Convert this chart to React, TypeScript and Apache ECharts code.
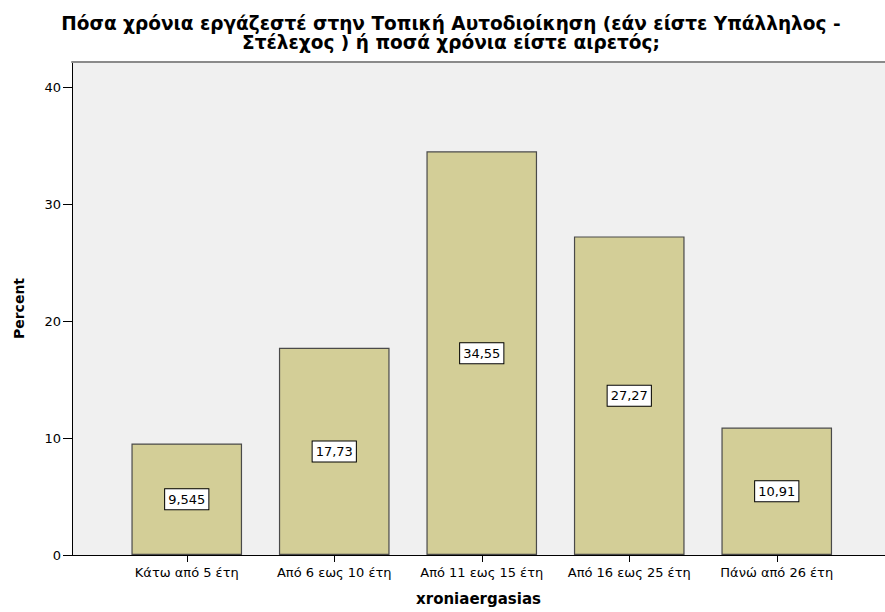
import React, { useEffect, useRef } from "react";
import * as echarts from "echarts";

const categories = [
  "Κάτω από 5 έτη",
  "Από 6 εως 10 έτη",
  "Από 11 εως 15 έτη",
  "Από 16 εως 25 έτη",
  "Πάνώ από 26 έτη",
];
const percents = [9.545, 17.73, 34.55, 27.27, 10.91];
const valueLabels = ["9,545", "17,73", "34,55", "27,27", "10,91"];
const titleText =
  "Πόσα χρόνια εργάζεστέ στην Τοπική Αυτοδιοίκηση (εάν είστε Υπάλληλος -\nΣτέλεχος ) ή ποσά χρόνια είστε αιρετός;";
const yName = "Percent";
const xName = "xroniaergasias";

const FONT = "'DejaVu Sans', Verdana, sans-serif";

export default function App() {
  const ref = useRef<HTMLDivElement>(null);
  useEffect(() => {
    if (!ref.current) return;
    const chart = echarts.init(ref.current, null, { renderer: "svg" });
    const yMax = 42.2;
    chart.setOption({
      animation: false,
      backgroundColor: "#ffffff",
      textStyle: { fontFamily: FONT },
      title: {
        text: titleText,
        left: 446,
        textAlign: "center",
        top: 9,
        padding: 5,
        textStyle: {
          fontFamily: FONT,
          fontSize: 18.5,
          fontWeight: "bold",
          lineHeight: 19,
          color: "#000",
        },
      },
      grid: [
        {
          left: 72,
          right: 0,
          top: 62,
          bottom: 57,
          show: true,
          backgroundColor: "#f0f0f0",
          borderWidth: 0,
        },
        { left: 113, right: 34.5, top: 62, bottom: 57 },
      ],
      xAxis: [
        {
          gridIndex: 0,
          type: "value",
          min: 0,
          max: 1,
          axisLine: { show: true, lineStyle: { color: "#000", width: 1 } },
          axisTick: { show: false },
          axisLabel: { show: false },
          splitLine: { show: false },
          name: xName,
          nameLocation: "middle",
          nameGap: 36,
          nameTextStyle: { fontFamily: FONT, fontSize: 15, fontWeight: "bold", color: "#000" },
        },
        {
          gridIndex: 0,
          type: "value",
          position: "top",
          min: 0,
          max: 1,
          axisLine: { show: true, lineStyle: { color: "#8a8a8a", width: 2 } },
          axisTick: { show: false },
          axisLabel: { show: false },
          splitLine: { show: false },
        },
        {
          gridIndex: 1,
          type: "category",
          data: categories,
          axisLine: { show: false },
          axisTick: { show: true, alignWithLabel: true, length: 7, lineStyle: { color: "#000" } },
          axisLabel: { interval: 0, fontSize: 13, color: "#000", margin: 11, fontFamily: FONT },
        },
      ],
      yAxis: [
        {
          gridIndex: 0,
          type: "value",
          min: 0,
          max: yMax,
          interval: 10,
          axisLine: { show: true, lineStyle: { color: "#000", width: 1 } },
          axisTick: { show: true, length: 9, lineStyle: { color: "#000" } },
          axisLabel: { fontSize: 13, color: "#000", margin: 11, fontFamily: FONT, showMaxLabel: false },
          splitLine: { show: false },
          name: yName,
          nameLocation: "middle",
          nameRotate: 90,
          nameGap: 46,
          nameTextStyle: { fontFamily: FONT, fontSize: 14, fontWeight: "bold", color: "#000" },
        },
        {
          gridIndex: 1,
          type: "value",
          min: 0,
          max: yMax,
          show: false,
        },
      ],
      series: [
        {
          type: "bar",
          xAxisIndex: 2,
          yAxisIndex: 1,
          barWidth: "75%",
          data: percents,
          itemStyle: { color: "#d3ce97", borderColor: "#4a4a4a", borderWidth: 1.2 },
          label: {
            show: true,
            position: "inside",
            formatter: (p: any) => valueLabels[p.dataIndex],
            color: "#000",
            fontSize: 13,
            fontFamily: FONT,
            backgroundColor: "#ffffff",
            borderColor: "#000",
            borderWidth: 1,
            padding: [4, 3, 3, 3],
          },
        },
      ],
    });
    return () => chart.dispose();
  }, []);
  return <div ref={ref} style={{ width: 885, height: 612, position: "absolute", left: 0, top: 0 }} />;
}
